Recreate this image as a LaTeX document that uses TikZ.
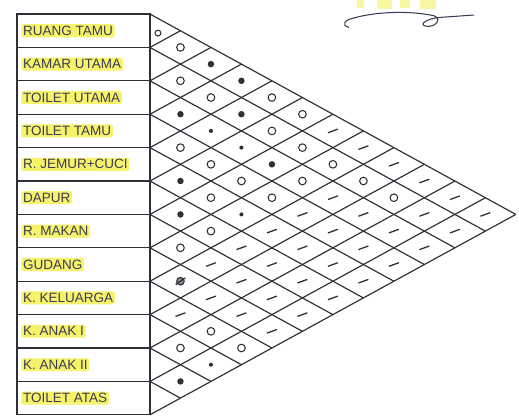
\documentclass[tikz,border=0pt]{standalone}
\usepackage{fontspec}
\setmainfont{Liberation Sans}
\usetikzlibrary{positioning}
\definecolor{pencil}{HTML}{2F2F38}
\definecolor{marker}{HTML}{F4F046}
\definecolor{inktext}{HTML}{3B3B55}
\tikzset{
  roomcell/.style={draw=pencil, line width=1.1pt, minimum width=3.98cm,
    minimum height=1cm, inner sep=0pt},
  roomlbl/.style={fill=marker, fill opacity=0.8, text opacity=1, text=inktext,
    inner sep=1.5pt, rounded corners=2pt, font=\fontsize{11.5}{13}\selectfont},
  gridline/.style={pencil, line width=1pt},
  mko/.style={circle, draw=pencil, line width=0.9pt, inner sep=0pt, minimum size=6.5pt},
  mkb/.style={circle, fill=pencil, inner sep=0pt, minimum size=5.5pt},
  mks/.style={circle, fill=pencil, inner sep=0pt, minimum size=3.5pt},
  mkd/.style={rectangle, fill=pencil, inner sep=0pt, minimum width=9pt,
    minimum height=1.1pt, rotate=20},
  mkx/.style={circle, draw=pencil, fill=pencil!55, line width=0.9pt, inner sep=0pt,
    minimum size=6.5pt}
}

\begin{document}
\begin{tikzpicture}

\def\NR{12}     % number of rooms
\def\DW{0.913}  % horizontal step of one diamond column
\def\BW{3.98}   % width of the room list

\useasboundingbox (-4.49,0.42) rectangle (11.05,-12.10);

%--- Room list ---

\foreach \i/\txt in {1/RUANG TAMU, 2/KAMAR UTAMA, 3/TOILET UTAMA, 4/TOILET TAMU,
    5/R. JEMUR+CUCI, 6/DAPUR, 7/R. MAKAN, 8/GUDANG, 9/K. KELUARGA,
    10/K. ANAK I, 11/K. ANAK II, 12/TOILET ATAS} {
  \node[roomcell] (room\i) at (-\BW/2, {-\i+0.5}) {};
  \node[roomlbl, right=0.14 of room\i.west] (lbl\i) {\txt};
}

%--- Diamond grid ---

% lines leave every row border down-right and up-right
\foreach \k in {0,...,\NR} {
  \draw[gridline] (0,-\k) -- ++({(\NR-\k)*\DW}, {-(\NR-\k)/2});
  \draw[gridline] (0,-\k) -- ++({\k*\DW}, {\k/2});
}

%--- Marks (o = close, b/s = very close, d = not needed, x = scribbled) ---

\node[mko, minimum size=5pt] (c1-1) at (0.24,-0.57) {};

\foreach \k/\m/\t in {
    1/2/o, 2/3/o, 3/4/b, 4/5/o, 5/6/b, 6/7/b, 7/8/o, 8/9/x, 9/10/d, 10/11/o, 11/12/b,
    1/3/b, 2/4/o, 3/5/s, 4/6/o, 5/7/o, 6/8/o, 7/9/d, 8/10/d, 9/11/o, 10/12/s,
    1/4/b, 2/5/b, 3/6/s, 4/7/o, 5/8/s, 6/9/d, 7/10/d, 8/11/d, 9/12/o,
    1/5/o, 2/6/o, 3/7/b, 4/8/o, 5/9/d, 6/10/d, 7/11/d, 8/12/d,
    1/6/o, 2/7/o, 3/8/o, 4/9/d, 5/10/d, 6/11/d, 7/12/d,
    1/7/d, 2/8/o, 3/9/d, 4/10/d, 5/11/d, 6/12/d,
    1/8/d, 2/9/o, 3/10/d, 4/11/d, 5/12/d,
    1/9/d, 2/10/o, 3/11/d, 4/12/d,
    1/10/d, 2/11/d, 3/12/d,
    1/11/d, 2/12/d,
    1/12/d} {
  \node[mk\t] (c\k-\m) at ({(\m-\k)*\DW}, {-(\k+\m-1)/2}) {};
}
\node[mkd, minimum width=10pt, rotate=15] (c8-9s) at (c8-9) {};

%--- Signature ---

\fill[marker, opacity=0.5] (6.20,0.42) rectangle (6.42,0.18);
\fill[marker, opacity=0.5] (6.80,0.42) rectangle (7.25,0.16);
\fill[marker, opacity=0.5] (7.48,0.42) rectangle (7.78,0.18);
\fill[marker, opacity=0.5] (8.08,0.42) rectangle (8.55,0.14);
\draw[inktext, line width=0.9pt, line cap=round]
  (5.95,-0.40) .. controls (5.72,-0.33) and (5.82,-0.18) .. (6.10,-0.12)
  .. controls (6.80,0.08) and (7.80,0.10) .. (8.50,-0.05)
  .. controls (8.78,-0.16) and (8.52,-0.42) .. (8.25,-0.36)
  .. controls (8.02,-0.30) and (8.35,-0.12) .. (8.70,-0.10)
  -- (9.70,-0.03);

\end{tikzpicture}
\end{document}
